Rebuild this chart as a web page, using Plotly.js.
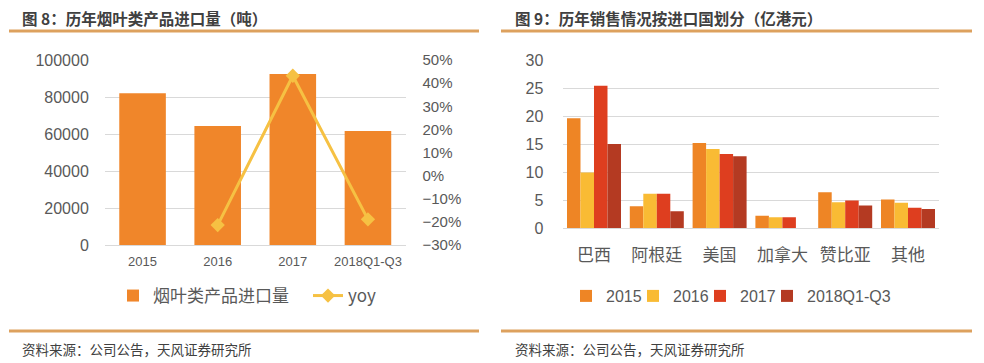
<!DOCTYPE html>
<html>
<head>
<meta charset="utf-8">
<script src="https://cdn.plot.ly/plotly-3.0.1.min.js"></script>
<style>html,body{margin:0;padding:0;background:#fff;}#chart{width:984px;height:363px;}</style>
</head>
<body>
<div id="chart"></div>
<script>
// ---- Data: left chart (图8) ----
var years = ['2015', '2016', '2017', '2018Q1-Q3'];
var importVolume = [82000, 64300, 92400, 61600];
var yoyYears = ['2016', '2017', '2018Q1-Q3'];
var yoyValues = [-0.214, 0.432, -0.189];

// ---- Data: right chart (图9) ----
var countries = ['巴西', '阿根廷', '美国', '加拿大', '赞比亚', '其他'];
var seriesNames = ['2015', '2016', '2017', '2018Q1-Q3'];
var sales2015 = [19.6, 3.9, 15.2, 2.2, 6.4, 5.1];
var sales2016 = [9.9, 6.1, 14.1, 1.9, 4.6, 4.5];
var sales2017 = [25.4, 6.1, 13.2, 1.9, 4.9, 3.6];
var sales2018 = [15.0, 3.0, 12.8, 0, 4.0, 3.4];

var FONT = 'Liberation Sans, Arial, Noto Sans CJK SC, sans-serif';
var CJK = 'Noto Sans CJK SC, Liberation Sans, sans-serif';
var GRAY = '#595959';
var GRID = '#D9D9D9';
var W = 984, H = 363;
function px(x){ return x / W; }
function py(y){ return 1 - y / H; }

var traces = [
  {type:'bar', name:'烟叶类产品进口量', x:years, y:importVolume, xaxis:'x', yaxis:'y',
   marker:{color:'#F0862A'}, width:0.62, legend:'legend'},
  {type:'scatter', mode:'lines+markers', name:'yoy', x:yoyYears, y:yoyValues, xaxis:'x', yaxis:'y2',
   line:{color:'#F6C143', width:3}, marker:{symbol:'diamond', size:11, color:'#F6C143'}, legend:'legend'},
  {type:'bar', name:seriesNames[0], x:countries, y:sales2015, xaxis:'x3', yaxis:'y3', marker:{color:'#EE8525'}, legend:'legend2'},
  {type:'bar', name:seriesNames[1], x:countries, y:sales2016, xaxis:'x3', yaxis:'y3', marker:{color:'#F9BB34'}, legend:'legend3'},
  {type:'bar', name:seriesNames[2], x:countries, y:sales2017, xaxis:'x3', yaxis:'y3', marker:{color:'#DE3E1F'}, legend:'legend4'},
  {type:'bar', name:seriesNames[3], x:countries, y:sales2018, xaxis:'x3', yaxis:'y3', marker:{color:'#B43A22'}, legend:'legend5'}
];

var lineColor = '#DDA15E';
var legendFont = {size:16, color:GRAY, family:FONT};
function smallLegend(xpx){
  return {orientation:'h', x:px(xpx), y:py(296), xanchor:'left', yanchor:'middle',
          font:legendFont, bgcolor:'rgba(0,0,0,0)'};
}
var layout = {
  width: W, height: H,
  margin:{l:0, r:0, t:0, b:0, autoexpand:false},
  paper_bgcolor:'#fff', plot_bgcolor:'rgba(0,0,0,0)',
  font:{family:FONT, color:GRAY},
  barmode:'group', bargap:0.14, bargroupgap:0,
  showlegend:true,
  xaxis:{domain:[px(105), px(405.5)], anchor:'y', type:'category',
         showgrid:false, zeroline:false, showline:false,
         ticks:'outside', ticklen:4, tickcolor:'rgba(0,0,0,0)',
         tickfont:{size:13, color:GRAY, family:FONT}},
  yaxis:{domain:[py(245), py(60)], anchor:'x', range:[0, 100000], dtick:20000, tickformat:'d',
         showgrid:true, gridcolor:GRID, gridwidth:1, zeroline:true, zerolinecolor:GRID,
         ticks:'outside', ticklen:12, tickcolor:'rgba(0,0,0,0)',
         tickfont:{size:16, color:GRAY, family:FONT}},
  yaxis2:{overlaying:'y', side:'right', anchor:'x', range:[-0.3, 0.5], dtick:0.1, tickformat:'.0%',
          showgrid:false, zeroline:false, showline:false,
          ticks:'outside', ticklen:13, tickcolor:'rgba(0,0,0,0)',
          tickfont:{size:15, color:GRAY, family:FONT}},
  xaxis3:{domain:[px(562.6), px(939.4)], anchor:'y3', type:'category',
          showgrid:false, zeroline:false, showline:false,
          ticks:'outside', ticklen:12, tickcolor:'rgba(0,0,0,0)',
          tickfont:{size:17, color:GRAY, family:CJK}},
  yaxis3:{domain:[py(228), py(60)], anchor:'x3', range:[0, 30], dtick:5,
          showgrid:true, gridcolor:GRID, gridwidth:1, zeroline:true, zerolinecolor:GRID,
          ticks:'outside', ticklen:15, tickcolor:'rgba(0,0,0,0)',
          tickfont:{size:16, color:GRAY, family:FONT}},
  legend:{orientation:'h', x:px(113), y:py(296), xanchor:'left', yanchor:'middle',
          entrywidth:150, entrywidthmode:'pixels',
          font:{size:17, color:GRAY, family:CJK}, bgcolor:'rgba(0,0,0,0)'},
  legend2: smallLegend(566),
  legend3: smallLegend(633),
  legend4: smallLegend(700),
  legend5: smallLegend(767),
  shapes:[
    {type:'line', xref:'paper', yref:'paper', x0:px(9), x1:px(479), y0:py(31), y1:py(31), line:{color:lineColor, width:3}},
    {type:'line', xref:'paper', yref:'paper', x0:px(501), x1:px(972), y0:py(31), y1:py(31), line:{color:lineColor, width:3}},
    {type:'line', xref:'paper', yref:'paper', x0:px(9), x1:px(479), y0:py(331), y1:py(331), line:{color:lineColor, width:3}},
    {type:'line', xref:'paper', yref:'paper', x0:px(501), x1:px(972), y0:py(331), y1:py(331), line:{color:lineColor, width:3}}
  ],
  annotations:[
    {xref:'paper', yref:'paper', x:px(20), y:py(18), xanchor:'left', yanchor:'middle', align:'left', showarrow:false,
     text:'<b>图 8：历年烟叶类产品进口量（吨）</b>', font:{size:15.5, color:'#404040', family:CJK}},
    {xref:'paper', yref:'paper', x:px(513), y:py(18), xanchor:'left', yanchor:'middle', align:'left', showarrow:false,
     text:'<b>图 9：历年销售情况按进口国划分（亿港元）</b>', font:{size:15.5, color:'#404040', family:CJK}},
    {xref:'paper', yref:'paper', x:px(20), y:py(349), xanchor:'left', yanchor:'middle', align:'left', showarrow:false,
     text:'资料来源：公司公告，天风证券研究所', font:{size:13.5, color:'#404040', family:CJK}},
    {xref:'paper', yref:'paper', x:px(513), y:py(349), xanchor:'left', yanchor:'middle', align:'left', showarrow:false,
     text:'资料来源：公司公告，天风证券研究所', font:{size:13.5, color:'#404040', family:CJK}}
  ]
};

Plotly.newPlot('chart', traces, layout, {displayModeBar:false, staticPlot:true});
</script>
</body>
</html>
